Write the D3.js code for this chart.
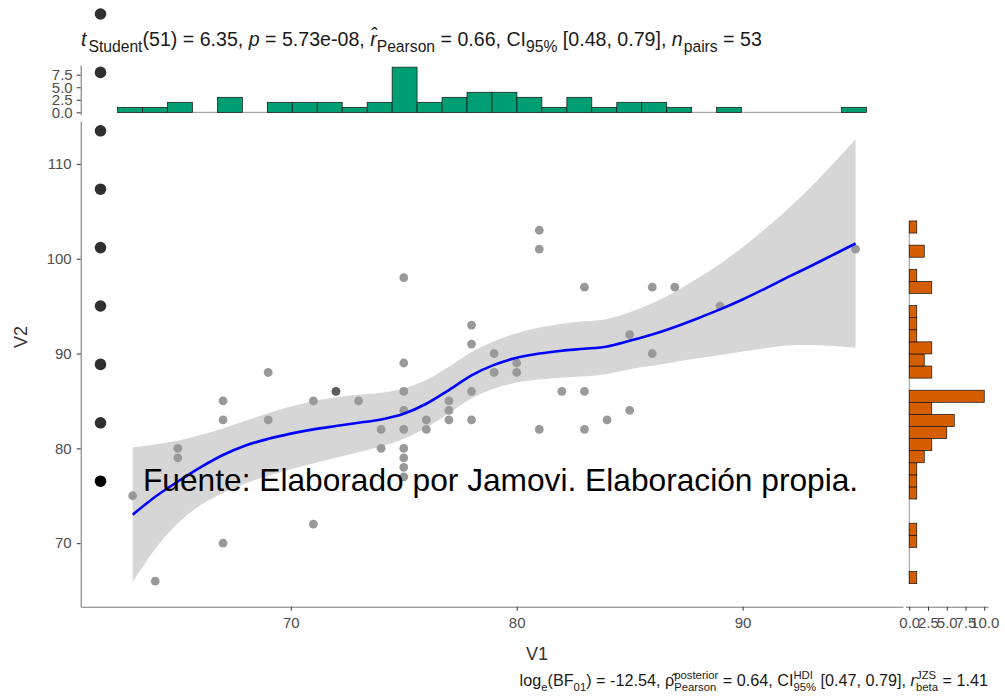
<!doctype html>
<html>
<head>
<meta charset="utf-8">
<script src="https://d3js.org/d3.v7.min.js"></script>
<style>
  body { margin: 0; background: #fff; }
  text { font-family: 'Liberation Sans', Arial, sans-serif; white-space: pre; }
</style>
</head>
<body>
<svg width="1005" height="697"></svg>
<script>
// data
var v1 = [63,64,65,65,67,67,67,69,69,71,71,72,72,73,74,74,75,75,75,75,75,75,75,75,75,76,76,77,77,77,78,78,78,78,79,79,80,80,81,81,81,82,83,83,83,84,85,85,86,86,87,89,95];
var v2 = [75,66,80,79,85,83,70,88,83,85,72,86,86,85,82,80,98,89,86,84,82,80,79,78,77,83,82,85,84,83,93,91,86,83,90,88,89,88,103,101,82,86,97,86,82,83,92,84,97,90,97,95,101];

// smoother (fit + 95% band) read at integer V1
var smoothX     = [63,64,65,66,67,68,69,70,71,72,73,74,75,76,77,78,79,80,81,82,83,84,85,86,87,88,89,90,91,92,93,94,95];
var smoothFit   = [73.0,74.9,76.5,78.0,79.3,80.3,81.0,81.55,82.0,82.35,82.7,83.05,83.65,84.7,86.15,87.7,88.8,89.55,90.0,90.3,90.5,90.75,91.35,92.0,92.8,93.7,94.65,95.7,96.85,98.05,99.2,100.4,101.6];
var smoothLower = [65.9,69.4,72.1,74.0,75.3,76.3,77.1,77.8,78.4,79.0,79.6,80.2,81.0,82.2,83.7,85.25,86.3,86.95,87.25,87.45,87.6,87.85,88.35,88.7,89.1,89.5,89.85,90.2,90.55,90.85,90.9,90.8,90.6];
var smoothUpper = [80.1,80.4,80.8,81.4,82.1,82.9,83.7,84.4,85.0,85.4,85.65,85.85,86.3,87.2,88.6,90.15,91.3,92.15,92.75,93.15,93.4,93.65,94.35,95.3,96.5,97.9,99.45,101.2,103.15,105.25,107.5,110.0,112.6];

// marginal histograms: 30 bins each
var xBinStart = 62.33, xBinWidth = 1.105;
var xCounts = [1,1,2,0,3,0,2,2,2,1,2,9,2,3,4,4,3,1,3,1,2,2,1,0,1,0,0,0,0,1];
var yBinStart = 65.73, yBinWidth = 1.275;
var yCounts = [1,0,0,1,1,0,0,1,1,1,2,3,5,6,3,10,0,3,2,3,1,1,1,0,3,1,0,2,0,1];

var xTicks = [70, 80, 90];
var yTicks = [70, 80, 90, 100, 110];
var histTicks = [0, 2.5, 5, 7.5, 10];

var svg = d3.select("svg");
var axisCol = "#7a7a7a", tickCol = "#333", labCol = "#4d4d4d";

var x = d3.scaleLinear().domain([60.7, 97.1]).range([80.7, 903]);
var y = d3.scaleLinear().domain([63.3, 114.5]).range([606.7, 121.2]);
var yTop = d3.scaleLinear().domain([-0.45, 9.45]).range([114.6, 64.9]);
var xRight = d3.scaleLinear().domain([-0.5, 10.5]).range([905.5, 988]);

// bullets from the surrounding document
svg.append("g").selectAll("circle")
  .data(d3.range(9))
  .join("circle")
  .attr("cx", 100.5)
  .attr("cy", d => 14 + d * 58.4)
  .attr("r", 5.8)
  .attr("fill", d => d == 8 ? "#000" : "#303030");

// points
svg.append("g").selectAll("circle")
  .data(v1.map((d, i) => [d, v2[i]]))
  .join("circle")
  .attr("cx", d => x(d[0]))
  .attr("cy", d => y(d[1]))
  .attr("r", 4.4)
  .attr("fill", "#000")
  .attr("fill-opacity", 0.4);

// band + fit
var band = d3.area()
  .x((d, i) => x(smoothX[i]))
  .y0((d, i) => y(smoothLower[i]))
  .y1((d, i) => y(smoothUpper[i]))
  .curve(d3.curveMonotoneX);
svg.append("path").attr("d", band(smoothX))
  .attr("fill", "#999").attr("fill-opacity", 0.4);

var fitLine = d3.line()
  .x((d, i) => x(smoothX[i]))
  .y((d, i) => y(smoothFit[i]))
  .curve(d3.curveMonotoneX);
svg.append("path").attr("d", fitLine(smoothX))
  .attr("fill", "none").attr("stroke", "#0000ff").attr("stroke-width", 2.6);

// main axes
var gx = svg.append("g").attr("transform", "translate(0,606.7)")
  .call(d3.axisBottom(x).tickValues(xTicks).tickSize(4).tickSizeOuter(0).tickPadding(7).tickFormat(d3.format("d")));
var gy = svg.append("g").attr("transform", "translate(80.7,0)")
  .call(d3.axisLeft(y).tickValues(yTicks).tickSize(4).tickSizeOuter(0).tickPadding(5).tickFormat(d3.format("d")));

// top histogram
var gTop = svg.append("g");
gTop.append("line")
  .attr("x1", x(xBinStart)).attr("x2", x(xBinStart + 30 * xBinWidth))
  .attr("y1", yTop(0)).attr("y2", yTop(0))
  .attr("stroke", "#666").attr("stroke-width", 0.7);
gTop.selectAll("rect")
  .data(xCounts)
  .join("rect")
  .attr("x", (d, i) => x(xBinStart + i * xBinWidth))
  .attr("width", x(xBinStart + xBinWidth) - x(xBinStart))
  .attr("y", d => yTop(d))
  .attr("height", d => yTop(0) - yTop(d))
  .attr("fill", "#009E73")
  .attr("stroke", "#111")
  .attr("stroke-width", 0.7);
var gty = svg.append("g").attr("transform", "translate(80.7,0)")
  .call(d3.axisLeft(yTop).tickValues([0, 2.5, 5, 7.5]).tickSize(4).tickSizeOuter(0).tickPadding(4).tickFormat(d3.format(".1f")));

// right histogram
var gRight = svg.append("g");
gRight.append("line")
  .attr("x1", xRight(0)).attr("x2", xRight(0))
  .attr("y1", y(yBinStart)).attr("y2", y(yBinStart + 30 * yBinWidth))
  .attr("stroke", "#666").attr("stroke-width", 0.7);
gRight.selectAll("rect")
  .data(yCounts)
  .join("rect")
  .attr("x", xRight(0))
  .attr("width", d => xRight(d) - xRight(0))
  .attr("y", (d, i) => y(yBinStart + (i + 1) * yBinWidth))
  .attr("height", y(yBinStart) - y(yBinStart + yBinWidth))
  .attr("fill", "#D55E00")
  .attr("stroke", "#111")
  .attr("stroke-width", 0.7);
var grx = svg.append("g").attr("transform", "translate(0,606.7)")
  .call(d3.axisBottom(xRight).tickValues(histTicks).tickSize(4).tickSizeOuter(0).tickPadding(7).tickFormat(d3.format(".1f")));

[gx, gy, gty, grx].forEach(function(g) {
  g.select(".domain").attr("stroke", axisCol).attr("stroke-width", 1.1);
  g.selectAll(".tick line").attr("stroke", tickCol);
  g.selectAll(".tick text").attr("fill", labCol).style("font-size", "15px")
    .style("font-family", "'Liberation Sans', Arial, sans-serif");
});

// axis titles
svg.append("text").attr("x", 537).attr("y", 660).attr("text-anchor", "middle")
  .style("font-size", "18px").attr("fill", "#333").text("V1");
svg.append("text").attr("transform", "translate(27,337) rotate(-90)").attr("text-anchor", "middle")
  .style("font-size", "18px").attr("fill", "#333").text("V2");

// rich text with sub/superscripts
function richText(parts, fs) {
  var g = svg.append("g");
  var pos = 0;
  function put(txt, dy, size, italic) {
    var t = g.append("text").attr("x", pos).attr("y", dy)
      .style("font-size", size + "px")
      .style("font-style", italic ? "italic" : "normal")
      .attr("fill", "#1a1a1a")
      .text(txt);
    return t.node().getComputedTextLength();
  }
  parts.forEach(function(p) {
    if (p.sup !== undefined) {
      var w1 = put(p.sup, -0.42 * fs, 0.7 * fs, false);
      var w2 = put(p.sub, 0.33 * fs, 0.7 * fs, false);
      pos += Math.max(w1, w2);
    } else {
      pos += put(p.t, (p.dy || 0) * fs, (p.s || 1) * fs, p.i) + (p.gap || 0);
    }
  });
  return { g: g, width: pos };
}

var sub = richText([
  { t: "t", i: true, gap: 2 }, { t: "Student", s: 0.8, dy: 0.3 },
  { t: "(51) = 6.35, " }, { t: "p", i: true }, { t: " = 5.73e-08, " },
  { t: "r\u0302", i: true }, { t: "Pearson", s: 0.8, dy: 0.3 },
  { t: " = 0.66, CI" }, { t: "95%", s: 0.8, dy: 0.3 },
  { t: " [0.48, 0.79], " }, { t: "n", i: true, gap: 1 }, { t: "pairs", s: 0.8, dy: 0.3 },
  { t: " = 53" }
], 19.6);
sub.g.attr("transform", "translate(81,46)");

var cap = richText([
  { t: "log" }, { t: "e", s: 0.7, dy: 0.3 }, { t: "(BF" }, { t: "01", s: 0.7, dy: 0.3 },
  { t: ") = -12.54, " }, { t: "\u03c1\u0302" }, { sup: "posterior", sub: "Pearson" },
  { t: " = 0.64, CI" }, { sup: "HDI", sub: "95%" },
  { t: " [0.47, 0.79], " }, { t: "r", i: true }, { sup: "JZS", sub: "beta" },
  { t: " = 1.41" }
], 16.2);
cap.g.attr("transform", "translate(" + (988 - cap.width) + ",686)");

// note from the surrounding document
svg.append("text").attr("x", 143).attr("y", 491)
  .style("font-size", "31.7px").attr("fill", "#000")
  .text("Fuente: Elaborado por Jamovi. Elaboración propia.");
</script>
</body>
</html>
